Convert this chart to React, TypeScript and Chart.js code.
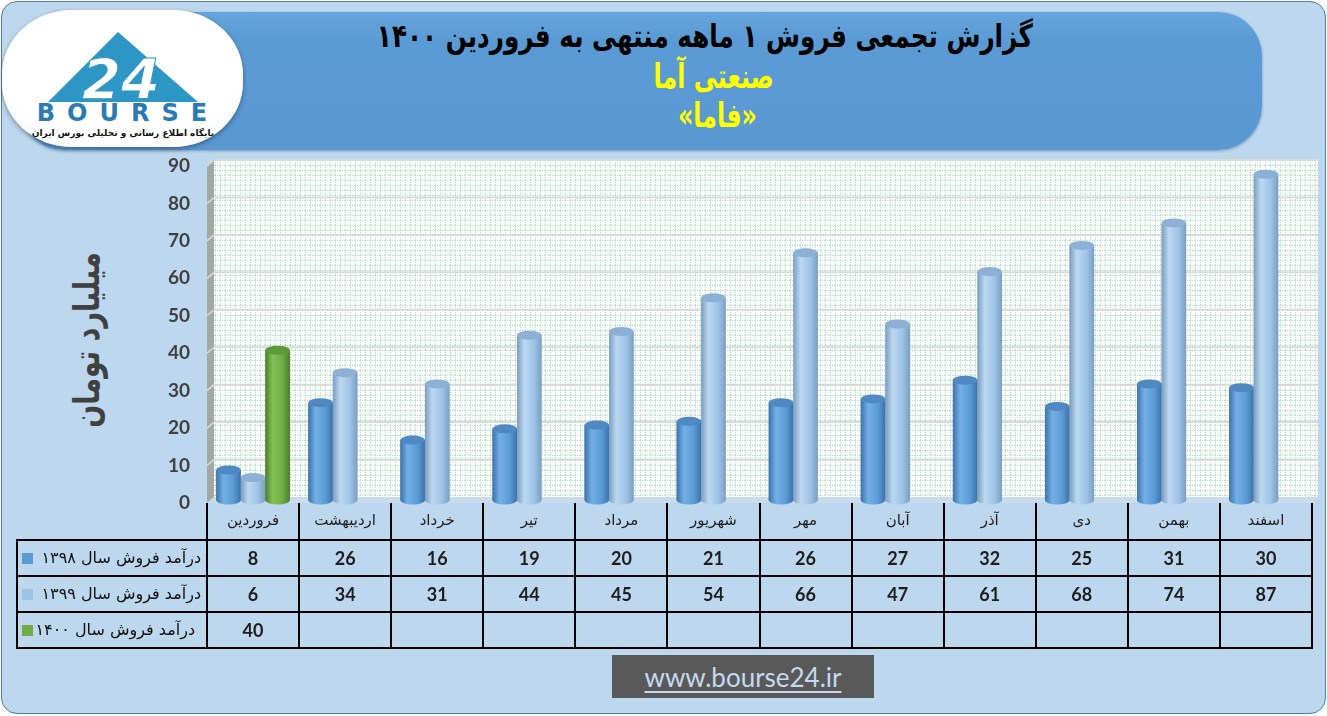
import React, { useEffect, useRef } from "react";
import { Chart, registerables } from "chart.js";

Chart.register(...registerables);

const months = ["فروردین", "اردیبهشت", "خرداد", "تیر", "مرداد", "شهریور", "مهر", "آبان", "آذر", "دی", "بهمن", "اسفند"];
const sales1398 = [8, 26, 16, 19, 20, 21, 26, 27, 32, 25, 31, 30];
const sales1399 = [6, 34, 31, 44, 45, 54, 66, 47, 61, 68, 74, 87];
const sales1400 = [40, null, null, null, null, null, null, null, null, null, null, null];
const seriesLabels = ["درآمد فروش سال ۱۳۹۸", "درآمد فروش سال ۱۳۹۹", "درآمد فروش سال ۱۴۰۰"];
const yMax = 90;
const yStep = 10;

const titleLine1 = "گزارش تجمعی فروش ۱ ماهه منتهی به فروردین ۱۴۰۰";
const titleLine2 = "صنعتی آما";
const titleLine3 = "«فاما»";
const yTitle = "میلیارد تومان";
const footerText = "www.bourse24.ir";

const palette = [
  { base: "#5B9BD5", edge: "#3D72AA", hi: "#72B0E6", cap: "#4F88C2" },
  { base: "#9DC3E6", edge: "#7C9DC0", hi: "#BCD8F1", cap: "#8DB1D6" },
  { base: "#70AD47", edge: "#4A7E2C", hi: "#84C255", cap: "#5F9A3A" },
];

const ARABIC_FONT = '"DejaVu Sans", sans-serif';

function makePattern(ctx: CanvasRenderingContext2D) {
  const c = document.createElement("canvas");
  c.width = 5;
  c.height = 5;
  const p = c.getContext("2d")!;
  p.fillStyle = "#FCFEFD";
  p.fillRect(0, 0, 5, 5);
  p.fillStyle = "#B7DEC4";
  for (let i = 0; i < 5; i += 2) {
    p.fillRect(0, i, 1, 1);
    p.fillRect(i, 0, 1, 1);
  }
  return ctx.createPattern(c, "repeat")!;
}

const wallPlugin = {
  id: "wall3d",
  beforeDatasetsDraw(chart: any) {
    const { ctx, chartArea, scales } = chart;
    const ys = scales.y;
    const L = chartArea.left;
    const R = chartArea.right;
    const d = 7;
    const fy = (v: number) => ys.getPixelForValue(v) + 3;
    const by = (v: number) => ys.getPixelForValue(v) - 3;
    ctx.save();
    ctx.fillStyle = makePattern(ctx);
    ctx.fillRect(L + d, by(yMax) - 1, R + 6 - (L + d), by(0) - by(yMax) + 1);
    ctx.beginPath();
    ctx.moveTo(L, fy(yMax));
    ctx.lineTo(L + d, by(yMax));
    ctx.lineTo(L + d, by(0));
    ctx.lineTo(L, fy(0));
    ctx.closePath();
    ctx.fillStyle = "#A4A8A4";
    ctx.fill();
    ctx.beginPath();
    ctx.moveTo(L, fy(0));
    ctx.lineTo(L + d, by(0));
    ctx.lineTo(R + 6, by(0));
    ctx.lineTo(R, fy(0));
    ctx.closePath();
    ctx.fillStyle = "#C9DCEE";
    ctx.fill();
    for (let v = yStep; v <= yMax; v += yStep) {
      ctx.strokeStyle = "#D8DBDA";
      ctx.lineWidth = 2;
      ctx.beginPath();
      ctx.moveTo(L + d, by(v));
      ctx.lineTo(R + 6, by(v));
      ctx.stroke();
      ctx.strokeStyle = "#DADADA";
      ctx.lineWidth = 1.5;
      ctx.beginPath();
      ctx.moveTo(L, fy(v));
      ctx.lineTo(L + d, by(v));
      ctx.stroke();
    }
    ctx.restore();
  },
  afterDatasetsDraw(chart: any) {
    const ctx = chart.ctx;
    chart.data.datasets.forEach((ds: any, di: number) => {
      const meta = chart.getDatasetMeta(di);
      const col = palette[di];
      meta.data.forEach((el: any, i: number) => {
        const v = ds.data[i];
        if (v == null) return;
        const { x, y, base, width } = el.getProps(["x", "y", "base", "width"], true);
        const x0 = x - width / 2;
        const ry = 4.5;
        const g = ctx.createLinearGradient(x0, 0, x0 + width, 0);
        g.addColorStop(0, col.edge);
        g.addColorStop(0.3, col.hi);
        g.addColorStop(0.7, col.base);
        g.addColorStop(1, col.edge);
        ctx.save();
        ctx.fillStyle = g;
        ctx.beginPath();
        ctx.ellipse(x, base, width / 2, ry, 0, 0, Math.PI * 2);
        ctx.fill();
        ctx.fillRect(x0, y, width, base - y);
        ctx.beginPath();
        ctx.ellipse(x, y, width / 2, ry, 0, 0, Math.PI * 2);
        ctx.fillStyle = col.cap;
        ctx.fill();
        ctx.restore();
      });
    });
  },
  afterDraw(chart: any) {
    const { ctx, chartArea, scales } = chart;
    const xs = scales.x;
    const n = months.length;
    const L = chartArea.left;
    const cw = (xs.right - xs.left) / n;
    const rowTop = 503;
    const rows = [540, 576, 612, 648];
    const tableLeft = 17;
    ctx.save();
    ctx.strokeStyle = "#000";
    ctx.lineWidth = 2;
    for (let i = 0; i <= n; i++) {
      const x = Math.round(L + i * cw);
      ctx.beginPath();
      ctx.moveTo(x, rowTop);
      ctx.lineTo(x, rows[3]);
      ctx.stroke();
    }
    ctx.beginPath();
    ctx.moveTo(tableLeft, rows[0]);
    ctx.lineTo(tableLeft, rows[3]);
    ctx.stroke();
    rows.forEach((ry) => {
      ctx.beginPath();
      ctx.moveTo(tableLeft - 1, ry);
      ctx.lineTo(xs.right + 1, ry);
      ctx.stroke();
    });
    ctx.direction = "rtl";
    ctx.textAlign = "center";
    ctx.textBaseline = "middle";
    ctx.fillStyle = "#1E1E1E";
    ctx.font = `15px ${ARABIC_FONT}`;
    months.forEach((m, i) => {
      ctx.fillText(m, L + (i + 0.5) * cw, (rowTop + rows[0]) / 2);
    });
    const series = [sales1398, sales1399, sales1400];
    ctx.font = 'bold 18px Lato, "Open Sans", sans-serif';
    ctx.direction = "ltr";
    series.forEach((arr, si) => {
      const cy = (rows[si] + rows[si + 1]) / 2 + 1;
      arr.forEach((v, i) => {
        if (v == null) return;
        ctx.fillText(String(v), L + (i + 0.5) * cw, cy);
      });
    });
    ctx.direction = "rtl";
    ctx.textAlign = "right";
    ctx.font = `16px ${ARABIC_FONT}`;
    seriesLabels.forEach((s, si) => {
      const cy = (rows[si] + rows[si + 1]) / 2;
      ctx.fillStyle = palette[si].base;
      ctx.fillRect(22, cy - 5, 11, 11);
      ctx.fillStyle = "#111";
      ctx.fillText(s, L - (si === 2 ? 12 : 6), cy + 1);
    });
    ctx.restore();
  },
};

export default function App() {
  const canvasRef = useRef<HTMLCanvasElement | null>(null);

  useEffect(() => {
    if (!canvasRef.current) return;
    const chart = new Chart(canvasRef.current, {
      type: "bar",
      data: {
        labels: months,
        datasets: [
          { label: seriesLabels[0], data: sales1398, backgroundColor: palette[0].base, borderWidth: 0 },
          { label: seriesLabels[1], data: sales1399, backgroundColor: palette[1].base, borderWidth: 0 },
          { label: seriesLabels[2], data: sales1400 as any, backgroundColor: palette[2].base, borderWidth: 0 },
        ],
      },
      options: {
        responsive: false,
        animation: false,
        devicePixelRatio: 1,
        layout: { padding: { top: 163, bottom: 216, left: 0, right: 15 } },
        datasets: { bar: { categoryPercentage: 0.8, barPercentage: 1 } },
        plugins: {
          legend: { display: false },
          tooltip: { enabled: false },
        },
        scales: {
          x: {
            display: false,
            grid: { display: false },
          },
          y: {
            min: 0,
            max: yMax,
            afterFit: (s: any) => {
              s.width = 207;
            },
            grid: { display: false, drawTicks: false },
            border: { display: false },
            ticks: {
              stepSize: yStep,
              padding: 17,
              labelOffset: 3,
              color: "#404040",
              font: { family: 'Lato, "Open Sans", sans-serif', size: 19, weight: "bold" },
            },
          },
        },
      },
      plugins: [wallPlugin],
    });
    return () => chart.destroy();
  }, []);

  const lineStyle = (size: number, color: string, lh: number): React.CSSProperties => ({
    fontSize: size,
    lineHeight: `${lh}px`,
    color,
    whiteSpace: "nowrap",
  });

  return (
    <div style={{ position: "absolute", left: 0, top: 0, width: 1327, height: 716, overflow: "hidden" }}>
      <div
        style={{
          position: "absolute",
          left: 1,
          top: 1,
          width: 1325,
          height: 713,
          boxSizing: "border-box",
          background: "#BDD7EE",
          border: "1.5px solid #4F7BA6",
          borderRadius: 16,
        }}
      />
      <div
        style={{
          position: "absolute",
          left: 20,
          top: 12,
          width: 1242,
          height: 138,
          borderRadius: 44,
          background: "linear-gradient(180deg, #66A5DC 0%, #5B9BD5 20%, #5A98D2 100%)",
          boxShadow: "0 1px 3px rgba(40,80,120,0.45)",
        }}
      />
      <div
        dir="rtl"
        style={{
          position: "absolute",
          left: 305,
          top: 15,
          width: 800,
          textAlign: "center",
          fontFamily: ARABIC_FONT,
          fontWeight: "bold",
        }}
      >
        <div style={lineStyle(29, "#000", 42)}>
          <span style={{ display: "inline-block", transform: "scaleX(0.85) scaleY(1.1)" }}>{titleLine1}</span>
        </div>
        <div style={{ ...lineStyle(28, "#FFFF00", 40), marginLeft: 18 }}>
          <span style={{ display: "inline-block", transform: "scaleX(0.85) scaleY(1.2)" }}>{titleLine2}</span>
        </div>
        <div style={{ ...lineStyle(28, "#FFFF00", 38), marginLeft: 24 }}>
          <span style={{ display: "inline-block", transform: "scaleX(0.85) scaleY(1.2)" }}>{titleLine3}</span>
        </div>
      </div>
      <div
        style={{
          position: "absolute",
          left: 2,
          top: 10,
          width: 241,
          height: 137,
          borderRadius: "70px / 64px",
          background: "radial-gradient(ellipse at 50% 40%, #FFFFFF 70%, #EEF2F5 100%)",
          boxShadow: "0 2px 5px rgba(0,0,0,0.35)",
          overflow: "hidden",
        }}
      >
        <svg width={241} height={137} viewBox="0 0 241 137">
          <polygon points="116,22 46,92 196,92" fill="#2E96C4" />
          <text x={119} y={88} textAnchor="middle" fontFamily="DejaVu Sans" fontWeight="bold" fontStyle="italic" fontSize={56} fill="#FFFFFF" stroke="#2E96C4" strokeWidth={1}>
            24
          </text>
          <text x={126} y={111} textAnchor="middle" fontFamily="DejaVu Sans" fontWeight="bold" fontSize={24} letterSpacing={12} fill="#2A7BB3">
            BOURSE
          </text>
          <text x={121} y={126} textAnchor="middle" direction="rtl" fontFamily="DejaVu Sans" fontWeight="bold" fontSize={9} fill="#111">
            پایگاه اطلاع رسانی و تحلیلی بورس ایران
          </text>
        </svg>
      </div>
      <div style={{ position: "absolute", left: 86, top: 340, width: 0, height: 0 }}>
        <div
          dir="rtl"
          style={{
            position: "absolute",
            left: 0,
            top: 0,
            transform: "translate(-50%, -50%) rotate(-90deg) scaleX(0.75)",
            whiteSpace: "nowrap",
            fontFamily: ARABIC_FONT,
            fontWeight: "bold",
            fontSize: 36,
            color: "#404040",
          }}
        >
          {yTitle}
        </div>
      </div>
      <div
        style={{
          position: "absolute",
          left: 612,
          top: 655,
          width: 262,
          height: 43,
          background: "#595959",
          display: "flex",
          alignItems: "center",
          justifyContent: "center",
          fontFamily: 'Lato, "Open Sans", sans-serif',
          fontSize: 26,
          color: "#C5D9F0",
          textDecoration: "underline",
          textDecorationThickness: 2,
          textUnderlineOffset: 4,
        }}
      >
        {footerText}
      </div>
      <canvas
        ref={canvasRef}
        width={1327}
        height={716}
        style={{ position: "absolute", left: 0, top: 0, width: 1327, height: 716 }}
      />
    </div>
  );
}
